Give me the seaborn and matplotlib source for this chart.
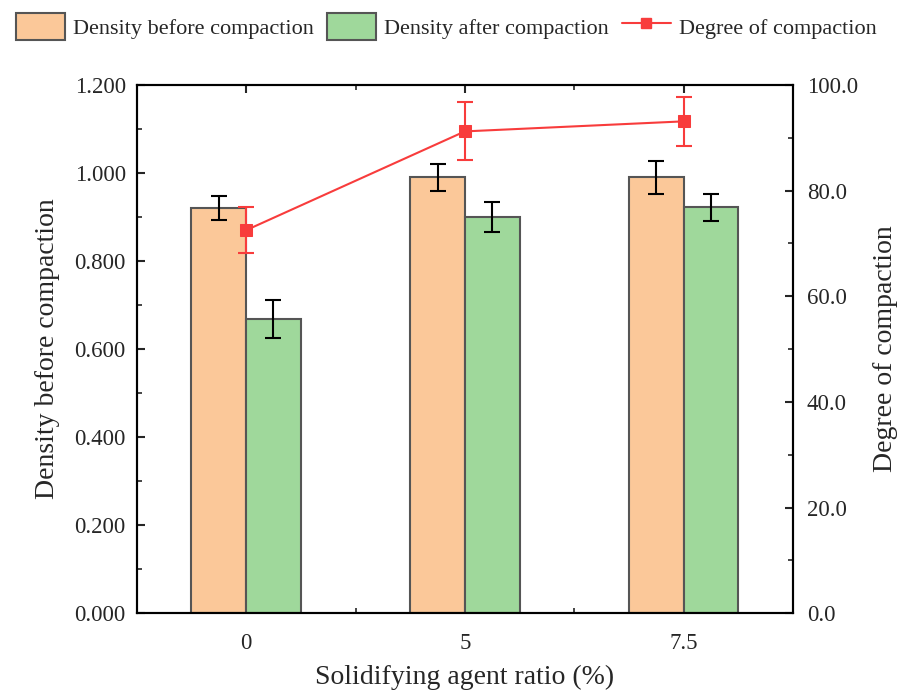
import numpy as np
import pandas as pd
import matplotlib
matplotlib.use('Agg')
import matplotlib.pyplot as plt
import seaborn as sns
from matplotlib.patches import Patch
from matplotlib.lines import Line2D
from matplotlib.ticker import MultipleLocator, FormatStrFormatter

# data
ratios = ['0', '5', '7.5']
density_before = [0.920, 0.990, 0.990]
density_before_err = [0.028, 0.031, 0.037]
density_after = [0.668, 0.900, 0.922]
density_after_err = [0.044, 0.035, 0.031]
degree = [72.5, 91.2, 93.1]
degree_err = [4.3, 5.5, 4.6]

orange = '#FBC899'
green = '#9FD89B'
red = '#F83C3C'

sns.set_style('ticks')
plt.rcParams['font.family'] = ['Liberation Serif', 'DejaVu Serif']

df = pd.DataFrame({
    'ratio': ratios * 2,
    'density': density_before + density_after,
    'kind': ['Density before compaction'] * 3 + ['Density after compaction'] * 3,
})

fig = plt.figure(figsize=(9, 6.96), dpi=100)
ax = fig.add_axes([0.152, 0.119, 0.729, 0.759])

sns.barplot(data=df, x='ratio', y='density', hue='kind', order=ratios,
            palette=[orange, green], saturation=1, width=0.5, gap=0,
            errorbar=None, edgecolor='#555555', linewidth=1.5, legend=False,
            ax=ax)

pos = np.arange(len(ratios))
ax.errorbar(pos - 0.125, density_before, yerr=density_before_err, fmt='none',
            ecolor='black', elinewidth=1.5, capsize=6, capthick=1.5, zorder=5)
ax.errorbar(pos + 0.125, density_after, yerr=density_after_err, fmt='none',
            ecolor='black', elinewidth=1.5, capsize=6, capthick=1.5, zorder=5)

ax.set_xlim(-0.5, 2.5)
ax.set_ylim(0, 1.2)
ax.yaxis.set_major_locator(MultipleLocator(0.2))
ax.yaxis.set_minor_locator(MultipleLocator(0.1))
ax.yaxis.set_major_formatter(FormatStrFormatter('%.3f'))
ax.set_xticks(pos)
ax.set_xticks([0.5, 1.5], minor=True)
ax.set_xlabel('Solidifying agent ratio (%)', fontsize=20, labelpad=8)
ax.set_ylabel('Density before compaction', fontsize=20, labelpad=10)

ax2 = ax.twinx()
sns.lineplot(x=pos, y=degree, color=red, marker='s', markersize=8,
             markeredgecolor=red, linewidth=1.5, ax=ax2)
ax2.errorbar(pos, degree, yerr=degree_err, fmt='none', ecolor=red,
             elinewidth=1.5, capsize=6, capthick=1.5)
ax2.set_ylim(0, 100)
ax2.yaxis.set_major_locator(MultipleLocator(20))
ax2.yaxis.set_minor_locator(MultipleLocator(10))
ax2.yaxis.set_major_formatter(FormatStrFormatter('%.1f'))
ax2.set_ylabel('Degree of compaction', fontsize=20)
ax2.yaxis.set_label_coords(1.122, 0.5)

for a in (ax, ax2):
    for s in a.spines.values():
        s.set_visible(True)
        s.set_linewidth(1.5)
        s.set_color('black')
ax.tick_params(axis='both', which='major', direction='in', length=6, width=1.5,
               labelsize=16.5, top=True)
ax.tick_params(axis='both', which='minor', direction='in', length=3.5, width=1.2,
               top=True)
ax.tick_params(axis='x', pad=14)
ax.tick_params(axis='y', pad=8)
ax2.tick_params(axis='y', which='major', direction='in', length=6, width=1.5,
                labelsize=16.5, pad=10)
ax2.tick_params(axis='y', which='minor', direction='in', length=3.5, width=1.2)

handles = [
    Patch(facecolor=orange, edgecolor='#555555', linewidth=1.5),
    Patch(facecolor=green, edgecolor='#555555', linewidth=1.5),
    Line2D([], [], color=red, marker='s', markersize=7, linewidth=1.5),
]
labels = ['Density before compaction', 'Density after compaction',
          'Degree of compaction']
fig.legend(handles, labels, loc='center', bbox_to_anchor=(0.496, 0.962), ncol=3,
           frameon=False, fontsize=16, handlelength=2.2, handleheight=1.5,
           handletextpad=0.35, columnspacing=0.6)

fig.savefig('out.png', dpi=100)
